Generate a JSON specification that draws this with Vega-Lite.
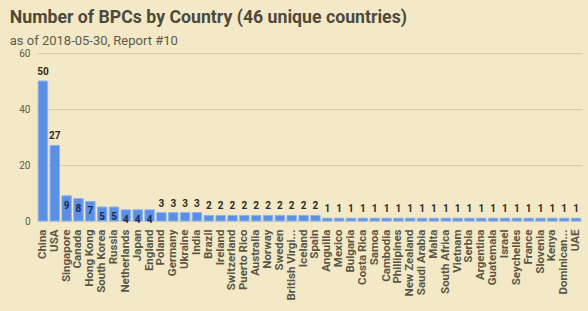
{
  "$schema": "https://vega.github.io/schema/vega-lite/v6.json",
  "width": 545,
  "height": 168,
  "autosize": "none",
  "padding": {"left": 37, "top": 53, "right": 6, "bottom": 90},
  "background": "#f3e9c6",
  "config": {
    "view": {"stroke": null},
    "font": "Roboto"
  },
  "title": {
    "text": "Number of BPCs by Country (46 unique countries)",
    "subtitle": "as of 2018-05-30, Report #10",
    "anchor": "start",
    "dx": -9,
    "offset": 0,
    "font": "Roboto",
    "fontSize": 17.7,
    "fontWeight": "bold",
    "color": "#4d4a3c",
    "subtitleFont": "Roboto",
    "subtitleFontSize": 13,
    "subtitleColor": "#5e5a4a",
    "subtitlePadding": 8
  },
  "data": {
    "values": [
      {"country": "China", "count": 50},
      {"country": "USA", "count": 27},
      {"country": "Singapore", "count": 9},
      {"country": "Canada", "count": 8},
      {"country": "Hong Kong", "count": 7},
      {"country": "South Korea", "count": 5},
      {"country": "Russia", "count": 5},
      {"country": "Netherlands", "count": 4},
      {"country": "Japan", "count": 4},
      {"country": "England", "count": 4},
      {"country": "Poland", "count": 3},
      {"country": "Germany", "count": 3},
      {"country": "Ukraine", "count": 3},
      {"country": "India", "count": 3},
      {"country": "Brazil", "count": 2},
      {"country": "Ireland", "count": 2},
      {"country": "Switzerland", "count": 2},
      {"country": "Puerto Rico", "count": 2},
      {"country": "Australia", "count": 2},
      {"country": "Norway", "count": 2},
      {"country": "Sweden", "count": 2},
      {"country": "British Virgi...", "count": 2},
      {"country": "Iceland", "count": 2},
      {"country": "Spain", "count": 2},
      {"country": "Anguilla", "count": 1},
      {"country": "Mexico", "count": 1},
      {"country": "Bulgaria", "count": 1},
      {"country": "Costa Rica", "count": 1},
      {"country": "Samoa", "count": 1},
      {"country": "Cambodia", "count": 1},
      {"country": "Phillipines", "count": 1},
      {"country": "New Zealand", "count": 1},
      {"country": "Saudi Arabia", "count": 1},
      {"country": "Malta", "count": 1},
      {"country": "South Africa", "count": 1},
      {"country": "Vietnam", "count": 1},
      {"country": "Serbia", "count": 1},
      {"country": "Argentina", "count": 1},
      {"country": "Guatemala", "count": 1},
      {"country": "Israel", "count": 1},
      {"country": "Seychelles", "count": 1},
      {"country": "France", "count": 1},
      {"country": "Slovenia", "count": 1},
      {"country": "Kenya", "count": 1},
      {"country": "Dominican...", "count": 1},
      {"country": "UAE", "count": 1}
    ]
  },
  "encoding": {
    "x": {
      "field": "country",
      "type": "nominal",
      "sort": null,
      "scale": {"paddingInner": 0.2, "paddingOuter": 0.1},
      "axis": {
        "title": null,
        "labelAngle": -90,
        "labelAlign": "right",
        "labelBaseline": "middle",
        "labelFont": "Roboto",
        "labelFontSize": 11.5,
        "labelFontWeight": "bold",
        "labelColor": "#5a5646",
        "labelPadding": 8,
        "labelLimit": 200,
        "ticks": false,
        "domain": false
      }
    },
    "y": {
      "field": "count",
      "type": "quantitative",
      "scale": {"domain": [0, 60]},
      "axis": {
        "title": null,
        "values": [0, 20, 40, 60],
        "labelFont": "Roboto",
        "labelFontSize": 10,
        "labelColor": "#5e5a4a",
        "labelPadding": 7,
        "gridColor": "#d8cea6",
        "gridWidth": 1,
        "ticks": false,
        "domain": false
      }
    }
  },
  "layer": [
    {
      "mark": {"type": "bar", "color": "#5b8fe4", "stroke": "#8fb4f0", "strokeWidth": 1}
    },
    {
      "transform": [{"filter": "datum.count < 4 || datum.count > 9"}],
      "mark": {"type": "text", "baseline": "bottom", "dy": -4, "fontSize": 10, "fontWeight": "bold", "color": "#2b2a24", "font": "Roboto"},
      "encoding": {"text": {"field": "count", "type": "quantitative"}}
    },
    {
      "transform": [{"filter": "datum.count >= 4 && datum.count <= 9"}],
      "mark": {"type": "text", "baseline": "top", "dy": 5, "fontSize": 10, "fontWeight": "bold", "color": "#1c2b55", "font": "Roboto"},
      "encoding": {"text": {"field": "count", "type": "quantitative"}}
    }
  ]
}
